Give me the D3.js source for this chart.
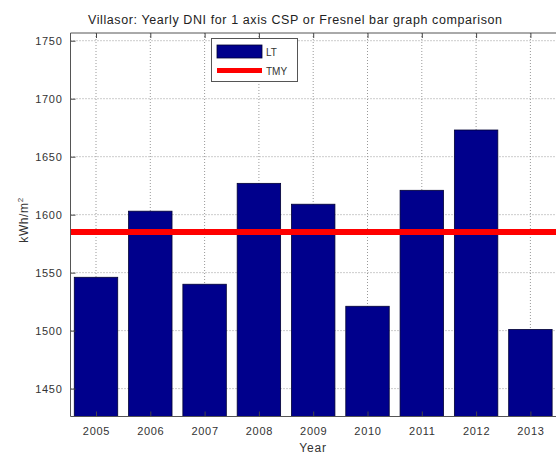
<!doctype html>
<html>
<head>
    <style>
        body { margin: 0; background: #fff; }
        svg { font-family: "Liberation Sans", Arial, sans-serif; }
        .tick text { fill: #333; font-size: 11px; letter-spacing: 0.7px; }
        .grid line { stroke: #999; stroke-dasharray: 1,2; }
    </style>
    <script src="https://d3js.org/d3.v7.min.js"></script>
</head>
<body>
    <svg width="556" height="454"></svg>
    <script>
        // data
        var years = [2005, 2006, 2007, 2008, 2009, 2010, 2011, 2012, 2013];
        var ltValues = [1546, 1603, 1540, 1627, 1609, 1521, 1621, 1673, 1501];
        var tmyValue = 1585;
        var yTicks = [1450, 1500, 1550, 1600, 1650, 1700, 1750];

        var svg = d3.select("svg");

        var pLeft = 70.5, pTop = 33, pBottom = 416.5, pRight = 562;

        var x = d3.scaleLinear().domain([2005, 2013]).range([96, 530.4]);
        var step = x(2006) - x(2005);
        var y = d3.scaleLinear()
            .domain([d3.min(ltValues) * 0.95, d3.max(ltValues) * 1.05])
            .range([pBottom, pTop]);

        // grid
        var grid = svg.append("g").attr("class", "grid");
        grid.selectAll(".gx").data(years).enter().append("line")
            .attr("x1", function(d) { return x(d); }).attr("x2", function(d) { return x(d); })
            .attr("y1", pTop).attr("y2", pBottom);
        grid.selectAll(".gy").data(yTicks).enter().append("line")
            .attr("x1", pLeft).attr("x2", pRight)
            .attr("y1", function(d) { return y(d); }).attr("y2", function(d) { return y(d); });

        // bars
        svg.selectAll(".bar").data(ltValues).enter().append("rect")
            .attr("class", "bar")
            .attr("x", function(d, i) { return x(years[i]) - step * 0.4; })
            .attr("width", step * 0.8)
            .attr("y", function(d) { return y(d); })
            .attr("height", function(d) { return pBottom - y(d); })
            .attr("fill", "#00008c")
            .attr("stroke", "#000033")
            .attr("stroke-width", 0.8);

        // TMY line
        svg.append("line")
            .attr("x1", pLeft).attr("x2", pRight)
            .attr("y1", y(tmyValue)).attr("y2", y(tmyValue))
            .attr("stroke", "#ff0000").attr("stroke-width", 6);

        // axes
        var xAxis = d3.axisBottom(x).tickValues(years).tickFormat(d3.format("d"))
            .tickSizeInner(-5).tickSizeOuter(0).tickPadding(11);
        var gx = svg.append("g").attr("transform", "translate(0," + pBottom + ")").call(xAxis);
        gx.select(".domain").remove();

        var xTop = d3.axisTop(x).tickValues(years).tickFormat("").tickSizeInner(-5).tickSizeOuter(0);
        var gxt = svg.append("g").attr("transform", "translate(0," + pTop + ")").call(xTop);
        gxt.select(".domain").remove();

        var yAxis = d3.axisLeft(y).tickValues(yTicks).tickFormat(d3.format("d"))
            .tickSizeInner(-5).tickSizeOuter(0).tickPadding(8);
        var gy = svg.append("g").attr("transform", "translate(" + pLeft + ",0)").call(yAxis);
        gy.select(".domain").remove();

        svg.selectAll(".tick line").attr("stroke", "#444");

        // frame
        svg.append("path")
            .attr("d", "M" + pRight + "," + pTop + "H" + pLeft + "V" + pBottom + "H" + pRight)
            .attr("fill", "none").attr("stroke", "#555").attr("stroke-width", 1);

        // title and labels
        svg.append("text")
            .attr("x", 295).attr("y", 24)
            .attr("text-anchor", "middle")
            .attr("font-size", "12.5px").attr("fill", "#222")
            .attr("textLength", 414).attr("lengthAdjust", "spacing")
            .text("Villasor: Yearly DNI for 1 axis CSP or Fresnel bar graph comparison");

        svg.append("text")
            .attr("x", 313).attr("y", 452)
            .attr("text-anchor", "middle")
            .attr("font-size", "12px").attr("letter-spacing", "0.8px").attr("fill", "#333")
            .text("Year");

        var yl = svg.append("text")
            .attr("transform", "translate(28,220) rotate(-90)")
            .attr("text-anchor", "middle")
            .attr("font-size", "12px").attr("letter-spacing", "0.6px").attr("fill", "#333");
        yl.append("tspan").text("kWh/m");
        yl.append("tspan").attr("dy", -5).attr("font-size", "8px").text("2");

        // legend
        var lg = svg.append("g");
        lg.append("rect").attr("x", 211.5).attr("y", 38.5).attr("width", 86).attr("height", 43)
            .attr("fill", "#fff").attr("stroke", "#555");
        lg.append("rect").attr("x", 217).attr("y", 45).attr("width", 45).attr("height", 13)
            .attr("fill", "#00008c").attr("stroke", "#000033").attr("stroke-width", 0.8);
        lg.append("line").attr("x1", 217).attr("x2", 262).attr("y1", 70.5).attr("y2", 70.5)
            .attr("stroke", "#ff0000").attr("stroke-width", 5);
        lg.append("text").attr("x", 266).attr("y", 56).attr("font-size", "10px").attr("fill", "#333").text("LT");
        lg.append("text").attr("x", 266).attr("y", 75).attr("font-size", "10px").attr("fill", "#333").text("TMY");
    </script>
</body>
</html>
